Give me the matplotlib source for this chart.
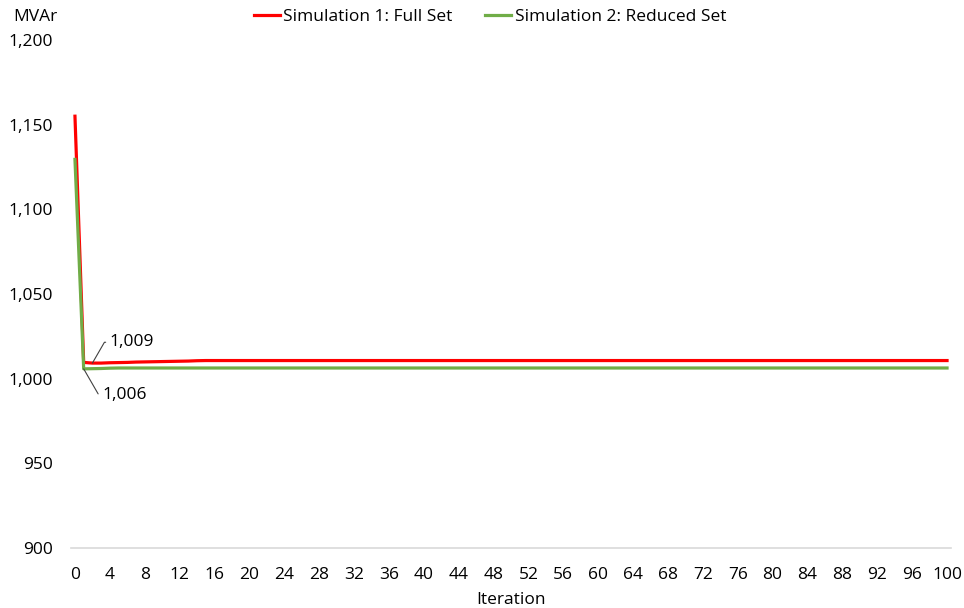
import numpy as np
import matplotlib.pyplot as plt
from matplotlib.ticker import FuncFormatter

plt.rcParams['font.family'] = ['Open Sans', 'DejaVu Sans']

# iterations 0..100
iterations = np.arange(0, 101)

# Simulation 1: Full Set
sim1_head = [1155.0, 1009.6, 1009.2, 1009.2, 1009.4, 1009.5, 1009.6, 1009.8,
             1009.9, 1010.0, 1010.1, 1010.2, 1010.3, 1010.4, 1010.6]
sim1_tail_value = 1010.7
sim1 = sim1_head + [sim1_tail_value] * (len(iterations) - len(sim1_head))

# Simulation 2: Reduced Set
sim2_head = [1129.5, 1005.8, 1005.9, 1006.0, 1006.2, 1006.3]
sim2_tail_value = 1006.3
sim2 = sim2_head + [sim2_tail_value] * (len(iterations) - len(sim2_head))

series_names = ["Simulation 1: Full Set", "Simulation 2: Reduced Set"]
y_ticks = [900, 950, 1000, 1050, 1100, 1150, 1200]
x_ticks = list(range(0, 101, 4))

fig = plt.figure(figsize=(9.64, 6.08), dpi=100)
ax = fig.add_axes([70.6 / 964, 1 - 548 / 608, 880.8 / 964, 508 / 608])

ax.plot(iterations, sim1, color='#ff0000', lw=2.3, label=series_names[0], zorder=3)
ax.plot(iterations, sim2, color='#70ad47', lw=2.3, label=series_names[1], zorder=3)

ax.set_xlim(-0.5, 100.5)
ax.set_ylim(900, 1200)
ax.set_xticks(x_ticks)
ax.set_yticks(y_ticks)
ax.yaxis.set_major_formatter(FuncFormatter(lambda v, p: f"{int(v):,}"))
ax.tick_params(length=0, labelsize=12.5, colors='black')
ax.tick_params(axis='x', pad=14)
ax.tick_params(axis='y', pad=13)

for s in ['top', 'right', 'left']:
    ax.spines[s].set_visible(False)
ax.spines['bottom'].set_color('#d9d9d9')
ax.spines['bottom'].set_linewidth(1.2)

ax.set_xlabel("Iteration", fontsize=12.5, labelpad=6)
fig.text(35 / 964, 1 - 17 / 608, "MVAr", fontsize=12.5, ha='center', va='center')

# data labels with leader lines
ax.annotate(f"{round(sim1[2]):,}", xy=(2.0, sim1[2]), xytext=(4.0, 1021.5),
            fontsize=12.5, va='center', ha='left',
            arrowprops=dict(arrowstyle='-', color='#404040', lw=0.8,
                            connectionstyle='angle,angleA=0,angleB=60,rad=0',
                            shrinkA=1, shrinkB=0))
ax.annotate(f"{round(sim2[1]):,}", xy=(1.0, sim2[1]), xytext=(3.1, 990.5),
            fontsize=12.5, va='center', ha='left',
            arrowprops=dict(arrowstyle='-', color='#404040', lw=0.8,
                            connectionstyle='angle,angleA=0,angleB=-60,rad=0',
                            shrinkA=1, shrinkB=0))

fig.legend(loc='center', bbox_to_anchor=(490 / 964, 1 - 17 / 608), ncol=2,
           frameon=False, fontsize=12.5, handlelength=1.5, handletextpad=0.2,
           columnspacing=1.9)

fig.savefig("out.png", dpi=100)
